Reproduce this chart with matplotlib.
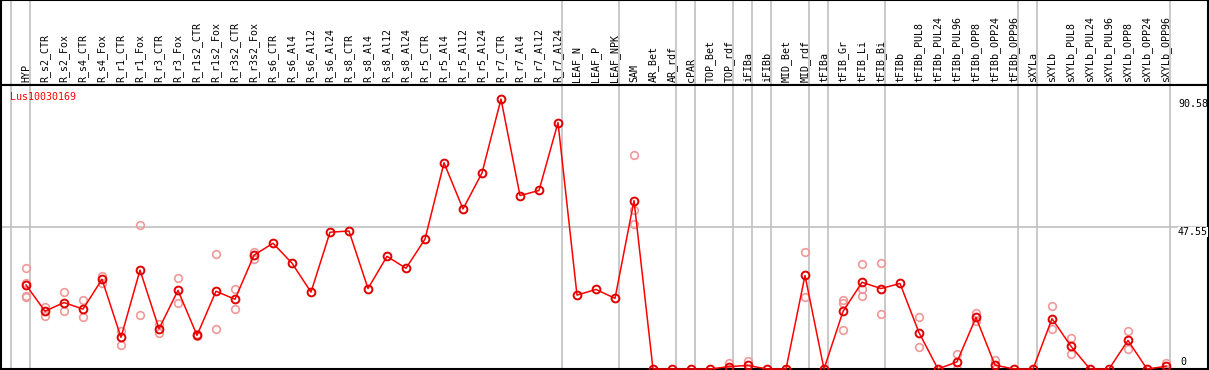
import numpy as np
import matplotlib
matplotlib.use("Agg")
import matplotlib.pyplot as plt

# sample labels, one column each
labels = ["HYP", "R_s2_CTR", "R_s2_Fox", "R_s4_CTR", "R_s4_Fox", "R_r1_CTR", "R_r1_Fox",
          "R_r3_CTR", "R_r3_Fox", "R_r1s2_CTR", "R_r1s2_Fox", "R_r3s2_CTR", "R_r3s2_Fox",
          "R_s6_CTR", "R_s6_Al4", "R_s6_Al12", "R_s6_Al24", "R_s8_CTR", "R_s8_Al4",
          "R_s8_Al12", "R_s8_Al24", "R_r5_CTR", "R_r5_Al4", "R_r5_Al12", "R_r5_Al24",
          "R_r7_CTR", "R_r7_Al4", "R_r7_Al12", "R_r7_Al24", "LEAF_N", "LEAF_P", "LEAF_NPK",
          "SAM", "AR_Bet", "AR_rdf", "cPAR", "TOP_Bet", "TOP_rdf", "iFIBa", "iFIBb",
          "MID_Bet", "MID_rdf", "tFIBa", "tFIB_Gr", "tFIB_Li", "tFIB_Bi", "tFIBb",
          "tFIBb_PUL8", "tFIBb_PUL24", "tFIBb_PUL96", "tFIBb_OPP8", "tFIBb_OPP24",
          "tFIBb_OPP96", "sXYLa", "sXYLb", "sXYLb_PUL8", "sXYLb_PUL24", "sXYLb_PUL96",
          "sXYLb_OPP8", "sXYLb_OPP24", "sXYLb_OPP96"]

# mean expression per sample
means = [28.2, 19.4, 22.3, 20.1, 30.1, 10.6, 33.2, 13.5, 26.4, 11.3, 26.1, 23.4, 38.2,
         42.2, 35.5, 25.8, 45.9, 46.3, 27.0, 37.8, 33.8, 43.6, 69.2, 53.7, 65.8,
         90.58, 58.2, 59.9, 82.7, 24.8, 26.7, 23.7,
         56.5, 0, 0, 0, 0, 0.8, 1.2, 0,
         0, 31.4, 0, 19.3, 29.1, 27.0, 28.7,
         12.2, 0, 2.4, 17.3, 1.3,
         0, 0, 16.9, 7.6, 0, 0,
         9.6, 0, 0.9]

# individual replicates (only those visible apart from the mean)
reps = [[33.9, 29.0, 24.6, 24.2], [20.8, 17.8], [25.7, 19.4], [23.0, 17.3], [31.3, 28.9],
        [12.6, 8.2], [48.3, 18.0], [15.0, 12.2], [30.4, 22.1], [11.9, 11.0], [38.5, 13.5],
        [26.8, 20.0], [39.4, 37.0],
        [], [], [], [], [], [], [], [], [], [], [], [], [], [], [], [], [], [], [],
        [71.8, 53.5, 48.6], [], [], [], [], [2.1, 0], [2.6, 0], [],
        [], [39.2, 24.0], [], [23.1, 22.0, 13.2], [35.1, 27.0, 24.6], [35.5, 18.6], [],
        [17.3, 7.3], [], [5.1, 0], [18.8, 16.0], [2.9, 0],
        [], [], [21.0, 13.3], [10.3, 4.9], [], [],
        [12.6, 6.6], [], [2.0, 0]]

# group separators sit just right of these columns
separators = [-1, 0, 28, 31, 34, 35, 37, 38, 39, 41, 42, 45, 52, 53, 60]

gene = "Lus10030169"
ymax_label = 90.58
ymid_label = 47.55

W, H = 1209, 370
fig = plt.figure(figsize=(W / 100, H / 100), dpi=100)
font = dict(family="DejaVu Sans Mono", size=7.2)

x = np.arange(len(labels))
xlim = ((1 - 26) / 19, (1208 - 26) / 19)
k = 2.98  # px per unit
ylim = (0, (369 - 85) / k)

# header with rotated labels
hax = fig.add_axes([1 / W, 1 - 85 / H, 1207 / W, 85 / H])
hax.set_xlim(*xlim)
hax.set_ylim(0, 1)
hax.set_xticks([])
hax.set_yticks([])
for s in hax.spines.values():
    s.set_color("black")
    s.set_linewidth(1.5)
for i, lab in enumerate(labels):
    hax.text(i, 0.03, lab, rotation=90, ha="center", va="bottom", **font)

# main plot area
ax = fig.add_axes([1 / W, 1 - 369 / H, 1207 / W, 284 / H])
ax.set_xlim(*xlim)
ax.set_ylim(*ylim)
ax.set_xticks([])
ax.set_yticks([])
for s in ax.spines.values():
    s.set_color("black")
    s.set_linewidth(1.5)

for sep in separators:
    for a in (hax, ax):
        a.axvline(sep + 0.22, color="#c0c0c0", lw=1.2, zorder=0)
ax.axhline(ymid_label, color="#c0c0c0", lw=1.2, zorder=0)

for i, r in enumerate(reps):
    if r:
        ax.plot([i] * len(r), r, "o", ms=5.5, mfc="none", mec="#f09898", mew=1.2,
                clip_on=False, zorder=2)

ax.plot(x, means, "-", color="red", lw=1.1, zorder=3, clip_on=False)
ax.plot(x, means, "o", ms=5.6, mfc="none", mec="#e00000", mew=1.4, zorder=4, clip_on=False)

# y value labels on the right
tx = (1178 - 26) / 19
ax.text(tx, ymax_label, f"{ymax_label:.2f}", ha="left", va="top", zorder=5, **font)
ax.text(tx, ymid_label, f"{ymid_label:.2f}", ha="left", va="top", zorder=5,
        bbox=dict(fc="white", ec="none", pad=0), **font)
ax.text(tx + 0.1, 0.8, "0", ha="left", va="bottom", zorder=5, **font)

ax.text((10 - 26) / 19, (369 - 97) / k, gene, color="red", ha="left", va="center", **font)

fig.savefig("out.png", dpi=100)
